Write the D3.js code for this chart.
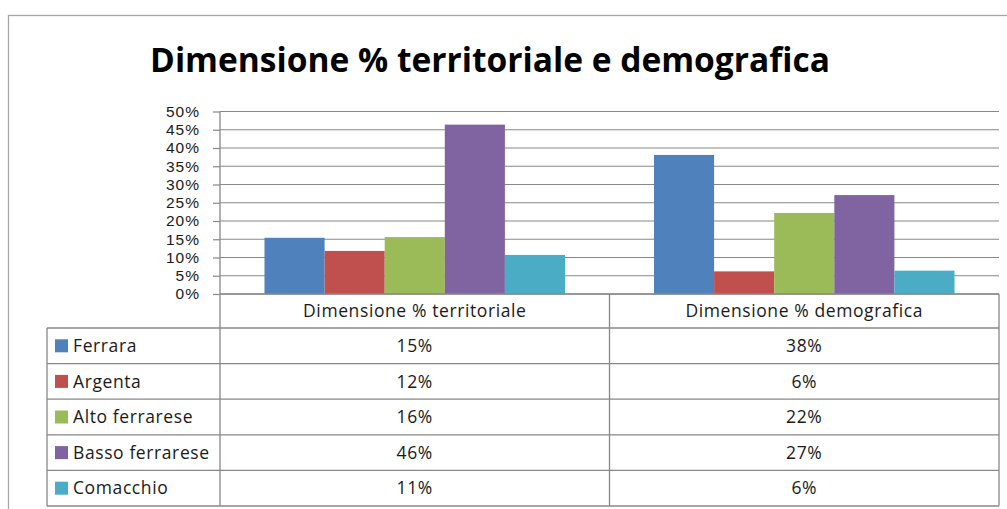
<!DOCTYPE html>
<html>
<head>
<meta charset="utf-8">
<script src="https://cdn.jsdelivr.net/npm/d3@7"></script>
<style>
    body { margin: 0; background: #fff; }
    svg { display: block; font-family: 'Open Sans', sans-serif; }
</style>
</head>
<body>
<script>
// chart data
const title = 'Dimensione % territoriale e demografica';
const categories = ['Dimensione % territoriale', 'Dimensione % demografica'];
const seriesNames = ['Ferrara', 'Argenta', 'Alto ferrarese', 'Basso ferrarese', 'Comacchio'];
const seriesColors = ['#4F81BD', '#C0504D', '#9BBB59', '#8064A2', '#4BACC6'];
const valuesTerritoriale = [0.154, 0.118, 0.156, 0.464, 0.107];
const valuesDemografica = [0.381, 0.062, 0.222, 0.271, 0.064];
const yTicks = [0, 0.05, 0.10, 0.15, 0.20, 0.25, 0.30, 0.35, 0.40, 0.45, 0.50];

drawChart();

function drawChart()
{
    const width = 1007;
    const height = 509;

    const plotLeft = 220;
    const plotRight = 999;
    const plotTop = 111.5;
    const plotBottom = 294;
    const tableLeft = 47;
    const headerBottom = 328;
    const tableBottom = 506;

    const gridColor = '#888888';
    const textColor = '#1a1a1a';
    const fontSize = 17.5;

    const svg = d3.select('body')
        .append('svg')
        .attr('width', width)
        .attr('height', height);

    // outer chart border (runs off the right and bottom edges)
    svg.append('rect')
        .attr('x', 8.5)
        .attr('y', 15.5)
        .attr('width', 1020)
        .attr('height', 520)
        .attr('fill', 'none')
        .attr('stroke', '#a6a6a6')
        .attr('stroke-width', 1.3);

    // title, sized so it spans roughly x=150..830 like the original
    const titleText = svg.append('text')
        .attr('x', 490)
        .attr('y', 72)
        .attr('text-anchor', 'middle')
        .attr('font-size', 30)
        .attr('font-weight', 'bold')
        .attr('fill', '#000')
        .text(title);
    const tw = titleText.node().getComputedTextLength();
    if (tw > 0) titleText.attr('font-size', 30 * 680 / tw);

    // scales
    const x0 = d3.scaleBand().domain(categories).range([plotLeft, plotRight]);
    const x1 = d3.scaleBand().domain(seriesNames).range([0, x0.bandwidth()]).paddingOuter(0.74);
    const y = d3.scaleLinear().domain([0, 0.5]).range([plotBottom, plotTop]);
    const color = d3.scaleOrdinal().domain(seriesNames).range(seriesColors);
    const rowY = d3.scaleBand().domain(seriesNames).range([headerBottom, tableBottom]);

    // y axis with gridlines
    // (tight font so the stacked tick labels do not run into each other)
    const yAxis = d3.axisLeft(y)
        .tickValues(yTicks)
        .tickFormat(d3.format('.0%'))
        .tickSize(7)
        .tickPadding(13);

    const yAxisG = svg.append('g')
        .attr('transform', `translate(${plotLeft},0)`)
        .call(yAxis);
    yAxisG.select('.domain').remove();
    yAxisG.selectAll('.tick line').attr('stroke', gridColor).attr('stroke-width', 1.2);
    yAxisG.selectAll('.tick text')
        .attr('font-size', 15.5)
        .attr('letter-spacing', 1)
        .attr('font-family', "'Liberation Sans', sans-serif")
        .attr('fill', textColor);

    svg.selectAll('line.gridline')
        .data(yTicks)
        .enter()
        .append('line')
        .attr('class', 'gridline')
        .attr('x1', plotLeft)
        .attr('x2', plotRight)
        .attr('y1', d => y(d))
        .attr('y2', d => y(d))
        .attr('stroke', gridColor)
        .attr('stroke-width', 1.2);

    // bars
    const valueRows = seriesNames.map((name, i) => ({
        name: name,
        values: [valuesTerritoriale[i], valuesDemografica[i]]
    }));

    const groups = svg.selectAll('g.bar-group')
        .data(categories)
        .enter()
        .append('g')
        .attr('class', 'bar-group')
        .attr('transform', d => `translate(${x0(d)},0)`);

    groups.selectAll('rect')
        .data((c, ci) => valueRows.map(r => ({ name: r.name, value: r.values[ci] })))
        .enter()
        .append('rect')
        .attr('x', d => x1(d.name))
        .attr('width', x1.bandwidth())
        .attr('y', d => y(d.value))
        .attr('height', d => y(0) - y(d.value))
        .attr('fill', d => color(d.name));

    // data table
    const table = svg.append('g').attr('stroke', gridColor).attr('stroke-width', 1.3).attr('fill', 'none');

    // vertical axis line continues through the table
    table.append('line')
        .attr('x1', plotLeft).attr('x2', plotLeft)
        .attr('y1', plotTop).attr('y2', tableBottom);

    // header row borders
    table.append('line')
        .attr('x1', plotLeft).attr('x2', plotRight)
        .attr('y1', plotBottom).attr('y2', plotBottom);
    categories.forEach(c =>
    {
        table.append('line')
            .attr('x1', x0(c) + x0.bandwidth()).attr('x2', x0(c) + x0.bandwidth())
            .attr('y1', plotBottom).attr('y2', tableBottom);
    });

    // row lines
    const rowEdges = seriesNames.map(n => rowY(n)).concat([tableBottom]);
    table.selectAll('line.row-line')
        .data(rowEdges)
        .enter()
        .append('line')
        .attr('class', 'row-line')
        .attr('x1', tableLeft)
        .attr('x2', plotRight)
        .attr('y1', d => d)
        .attr('y2', d => d);

    table.append('line')
        .attr('x1', tableLeft).attr('x2', tableLeft)
        .attr('y1', headerBottom).attr('y2', tableBottom);

    // header labels
    svg.selectAll('text.header')
        .data(categories)
        .enter()
        .append('text')
        .attr('class', 'header')
        .attr('x', d => x0(d) + x0.bandwidth() / 2)
        .attr('y', (plotBottom + headerBottom) / 2)
        .attr('dy', '0.35em')
        .attr('text-anchor', 'middle')
        .attr('font-size', fontSize)
        .attr('letter-spacing', 0.6)
        .attr('fill', textColor)
        .text(d => d);

    // legend column
    const legendRows = svg.selectAll('g.legend-row')
        .data(seriesNames)
        .enter()
        .append('g')
        .attr('class', 'legend-row')
        .attr('transform', d => `translate(0,${rowY(d) + rowY.bandwidth() / 2})`);

    legendRows.append('rect')
        .attr('x', 55)
        .attr('y', -6.5)
        .attr('width', 13)
        .attr('height', 13)
        .attr('fill', d => color(d));

    legendRows.append('text')
        .attr('x', 73)
        .attr('dy', '0.35em')
        .attr('font-size', fontSize)
        .attr('letter-spacing', 0.6)
        .attr('fill', textColor)
        .text(d => d);

    // value cells
    const fmt = d3.format('.0%');
    valueRows.forEach(r =>
    {
        svg.selectAll(null)
            .data(r.values)
            .enter()
            .append('text')
            .attr('x', (d, i) => x0(categories[i]) + x0.bandwidth() / 2)
            .attr('y', rowY(r.name) + rowY.bandwidth() / 2)
            .attr('dy', '0.35em')
            .attr('text-anchor', 'middle')
            .attr('font-size', fontSize)
            .attr('letter-spacing', 0.6)
            .attr('fill', textColor)
            .text(d => fmt(d));
    });
}
</script>
</body>
</html>
